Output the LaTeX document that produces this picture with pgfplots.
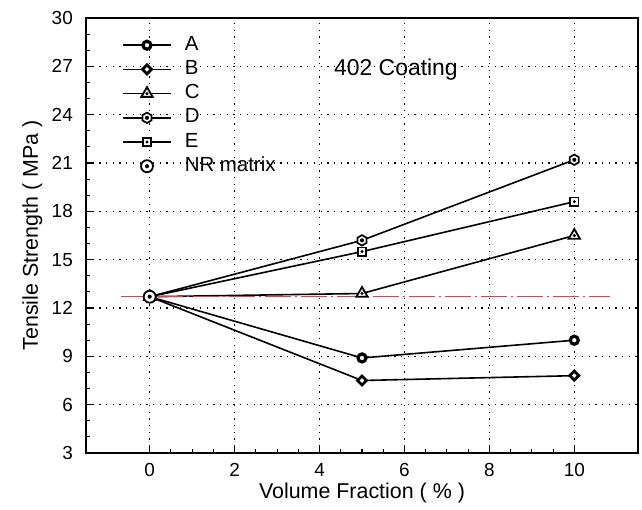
\documentclass[border=0pt]{standalone}
\usepackage{fontspec}
\setmainfont{Liberation Sans}
\usepackage{pgfplots}
\pgfplotsset{compat=1.18}
\usetikzlibrary{plotmarks}

\definecolor{nrred}{RGB}{238,60,60}

% custom marks: outline filled white, small black dot in the middle
\pgfdeclareplotmark{hexdot}{%
  \pgfpathmoveto{\pgfqpointpolar{90}{\pgfplotmarksize}}%
  \pgfpathlineto{\pgfqpointpolar{150}{\pgfplotmarksize}}%
  \pgfpathlineto{\pgfqpointpolar{210}{\pgfplotmarksize}}%
  \pgfpathlineto{\pgfqpointpolar{270}{\pgfplotmarksize}}%
  \pgfpathlineto{\pgfqpointpolar{330}{\pgfplotmarksize}}%
  \pgfpathlineto{\pgfqpointpolar{30}{\pgfplotmarksize}}%
  \pgfpathclose\pgfusepathqfillstroke
  \begin{pgfscope}\pgfsetfillcolor{black}%
  \pgfpathcircle{\pgfpointorigin}{0.4\pgfplotmarksize}\pgfusepathqfill\end{pgfscope}}
\pgfdeclareplotmark{sqdot}{%
  \pgfpathrectangle{\pgfqpoint{-\pgfplotmarksize}{-\pgfplotmarksize}}{\pgfqpoint{2\pgfplotmarksize}{2\pgfplotmarksize}}%
  \pgfusepathqfillstroke
  \begin{pgfscope}\pgfsetfillcolor{black}%
  \pgfpathcircle{\pgfpointorigin}{0.4\pgfplotmarksize}\pgfusepathqfill\end{pgfscope}}
\pgfdeclareplotmark{tridot}{%
  \pgfpathmoveto{\pgfqpointpolar{90}{1.25\pgfplotmarksize}}%
  \pgfpathlineto{\pgfqpointpolar{210}{1.25\pgfplotmarksize}}%
  \pgfpathlineto{\pgfqpointpolar{330}{1.25\pgfplotmarksize}}%
  \pgfpathclose\pgfusepathqfillstroke
  \begin{pgfscope}\pgfsetfillcolor{black}%
  \pgfpathcircle{\pgfpointorigin}{0.33\pgfplotmarksize}\pgfusepathqfill\end{pgfscope}}
\pgfdeclareplotmark{circdot}{%
  \pgfpathcircle{\pgfpointorigin}{\pgfplotmarksize}\pgfusepathqfillstroke
  \begin{pgfscope}\pgfsetfillcolor{black}%
  \pgfpathcircle{\pgfpointorigin}{0.35\pgfplotmarksize}\pgfusepathqfill\end{pgfscope}}
\pgfdeclareplotmark{sqdiamond}{%
  \pgfpathmoveto{\pgfqpoint{0pt}{\pgfplotmarksize}}%
  \pgfpathlineto{\pgfqpoint{\pgfplotmarksize}{0pt}}%
  \pgfpathlineto{\pgfqpoint{0pt}{-\pgfplotmarksize}}%
  \pgfpathlineto{\pgfqpoint{-\pgfplotmarksize}{0pt}}%
  \pgfpathclose\pgfusepathqfillstroke}

\begin{document}
\begin{tikzpicture}
\begin{axis}[
    name=ax,
    scale only axis,
    width=552bp, height=435bp,
    xmin=-1.5, xmax=11.5, ymin=3, ymax=30,
    xtick={0,2,...,10}, ytick={3,6,...,30},
    minor x tick num=3, minor y tick num=2,
    tick pos=left, tick align=inside,
    major tick length=7bp, minor tick length=4bp,
    tick style={black, line width=1.1bp},
    axis line style={line width=1.5bp},
    grid=major,
    major grid style={black, line width=1.3bp, dash pattern=on 1.3bp off 5.4bp},
    xlabel={Volume Fraction ( \% )},
    ylabel={Tensile Strength ( MPa )},
    label style={font=\fontsize{21.5}{24}\selectfont},
    tick label style={font=\fontsize{19}{21}\selectfont},
    /pgf/number format/assume math mode=true,
    xticklabel style={anchor=north, inner sep=0pt, yshift=-10bp},
    yticklabel style={anchor=east, inner sep=0pt, xshift=-13bp},
    xlabel style={at={(axis description cs:0.5,-0.105)}, anchor=base},
    ylabel style={at={(axis description cs:-0.087,0.5)}, anchor=base, rotate=0},
    legend style={at={(axis description cs:0.0652,0.9586)}, anchor=north west,
        draw=none, fill=none, inner sep=0pt,
        font=\fontsize{20.5}{22}\selectfont, row sep=6.2bp, column sep=13bp,
        nodes={inner sep=0pt, text height=14bp, text depth=4bp}},
    legend cell align=left,
    legend image code/.code={%
        \draw[#1, mark repeat=2, mark phase=2] plot coordinates {(0bp,0bp) (24bp,0bp) (48bp,0bp)};},
    every axis plot/.append style={black, line width=1.6bp},
]
\addplot[mark=*, mark size=4bp, mark options={solid, line width=3.2bp, fill=white}]
  coordinates {(0,12.7)(5,8.9)(10,10.0)};
\addlegendentry{A}
\addplot[mark=sqdiamond, mark size=4.5bp, mark options={solid, line width=2.8bp, fill=white}]
  coordinates {(0,12.7)(5,7.5)(10,7.8)};
\addlegendentry{B}
\addplot[mark=tridot, mark size=5.2bp, mark options={solid, line width=1.8bp, fill=white}]
  coordinates {(0,12.7)(5,12.9)(10,16.5)};
\addlegendentry{C}
\addplot[mark=hexdot, mark size=5.2bp, mark options={solid, line width=1.7bp, fill=white}]
  coordinates {(0,12.7)(5,16.2)(10,21.2)};
\addlegendentry{D}
\addplot[mark=sqdot, mark size=4.1bp, mark options={solid, line width=1.7bp, fill=white}]
  coordinates {(0,12.7)(5,15.5)(10,18.6)};
\addlegendentry{E}
\addplot[nrred, line width=1.4bp, dash pattern=on 26bp off 4bp on 2bp off 4bp, forget plot]
  coordinates {(-0.68,12.7)(10.85,12.7)};
\addplot[only marks, mark=circdot, mark size=6bp, mark options={solid, line width=1.8bp, fill=white}]
  coordinates {(0,12.7)};
\addlegendentry{NR matrix}
\node[font=\fontsize{23}{25}\selectfont] at (axis cs:5.8,26.8) {402 Coating};
\end{axis}
\pgfresetboundingbox
\path (ax.south west) ++(-86bp,-57bp) rectangle ([xshift=4bp,yshift=18bp]ax.north east);
\end{tikzpicture}
\end{document}
